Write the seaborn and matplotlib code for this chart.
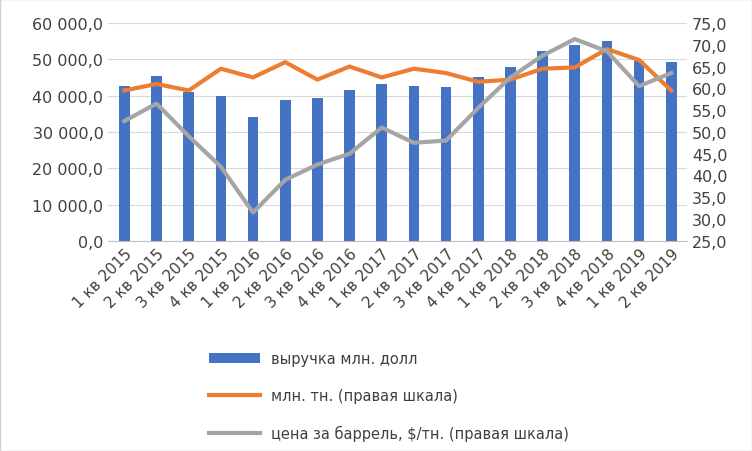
import matplotlib
matplotlib.use("Agg")
import matplotlib.pyplot as plt
import seaborn as sns
import pandas as pd
from matplotlib.ticker import FuncFormatter

# data
quarters = ["1 кв 2015", "2 кв 2015", "3 кв 2015", "4 кв 2015", "1 кв 2016", "2 кв 2016",
            "3 кв 2016", "4 кв 2016", "1 кв 2017", "2 кв 2017", "3 кв 2017", "4 кв 2017",
            "1 кв 2018", "2 кв 2018", "3 кв 2018", "4 кв 2018", "1 кв 2019", "2 кв 2019"]
revenue = [42500, 45300, 41000, 40000, 34000, 38700, 39300, 41500, 43200, 42700, 42300, 45000,
           48000, 52200, 54000, 55000, 49500, 49200]
volume = [59.5, 61.0, 59.5, 64.5, 62.5, 66.0, 62.0, 65.0, 62.5, 64.5, 63.5, 61.5,
          62.0, 64.5, 64.8, 69.0, 66.5, 59.5]
price = [52.5, 56.5, 49.0, 42.0, 31.5, 39.0, 42.5, 45.0, 51.0, 47.5, 48.0, 55.5,
         62.5, 67.5, 71.3, 68.5, 60.5, 63.5]

df = pd.DataFrame({"q": quarters, "rev": revenue, "vol": volume, "price": price})

def fmt(v, pos):
    return f"{v:,.1f}".replace(",", " ").replace(".", ",")

fig = plt.figure(figsize=(7.52, 4.52), dpi=100)
fig.patches.append(plt.Rectangle((0, 0), 1, 1, transform=fig.transFigure,
                                 fill=False, edgecolor="#d0d0d0", lw=1))
ax = fig.add_axes([0.144, 0.465, 0.77, 0.482])
sns.barplot(data=df, x="q", y="rev", color="#4472C4", width=0.33, saturation=1, ax=ax,
            label="выручка млн. долл")
ax.legend_.remove()
ax.set_ylim(0, 60000)
ax.set_yticks(range(0, 60001, 10000))
ax.yaxis.set_major_formatter(FuncFormatter(fmt))
ax.set_xlabel("")
ax.set_ylabel("")
ax.grid(axis="y", color="#d9d9d9", lw=0.8)
ax.set_axisbelow(True)
for s in ["top", "right", "left"]:
    ax.spines[s].set_visible(False)
ax.spines["bottom"].set_color("#bfbfbf")
ax.tick_params(length=0, labelsize=11, colors="#404040")
ax.tick_params(axis="y", labelsize=11.5)
ax.set_xticks(range(len(quarters)))
ax.set_xticklabels(quarters, rotation=45, ha="right", rotation_mode="anchor")
ax.set_xlim(-0.5, len(quarters) - 0.5)

ax2 = ax.twinx()
x = list(range(len(quarters)))
sns.lineplot(x=x, y=volume, color="#ED7D31", lw=3, ax=ax2, label="млн. тн. (правая шкала)")
sns.lineplot(x=x, y=price, color="#A5A5A5", lw=3, ax=ax2, label="цена за баррель, $/тн. (правая шкала)")
ax2.set_ylim(25, 75)
ax2.set_yticks(range(25, 76, 5))
ax2.yaxis.set_major_formatter(FuncFormatter(fmt))
for s in ax2.spines.values():
    s.set_visible(False)
ax2.tick_params(length=0, labelsize=11.5, colors="#404040")
ax2.legend_.remove()

h1, l1 = ax.get_legend_handles_labels()
h2, l2 = ax2.get_legend_handles_labels()
fig.legend(h1 + h2, l1 + l2, loc="upper left", bbox_to_anchor=(0.26, 0.25), frameon=False,
           fontsize=10.5, labelspacing=1.5, handlelength=3.5, labelcolor="#404040")

fig.savefig("out.png", dpi=100)
